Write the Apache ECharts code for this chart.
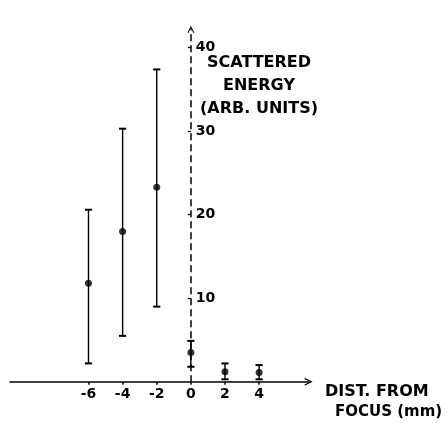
<!DOCTYPE html>
<html>
<head>
<meta charset="utf-8">
<script src="https://cdn.jsdelivr.net/npm/echarts@6/dist/echarts.min.js"></script>
<style>
html,body{margin:0;padding:0;background:#fff;}
#c{width:448px;height:423px;}
</style>
</head>
<body>
<div id="c"></div>
<script>
// Data
const distances = [-6, -4, -2, 0, 2, 4];           // mm from focus
const meanEnergy = [11.8, 18.0, 23.3, 3.5, 1.2, 1.1];
const lowEnergy  = [2.2, 5.5, 9.0, 1.8, 0.3, 0.3];
const highEnergy = [20.6, 30.3, 37.4, 4.9, 2.2, 2.0];
const yTickValues = [10, 20, 30, 40];
const xTickValues = [-6, -4, -2, 0, 2, 4];

const FONT = '"DejaVu Sans", Arial, sans-serif';
const chevron = 'path://M0,10 L5,0 L10,10 L8.3,10 L5,3.2 L1.7,10 Z';

const X_MIN = -10.6, X_MAX = 6.9, GRID_LEFT = 10, GRID_RIGHT = 139.4;
const plotW = 448 - GRID_LEFT - GRID_RIGHT;
const zeroOffset = (0 - X_MIN) / (X_MAX - X_MIN) * plotW;

const chart = echarts.init(document.getElementById('c'), null, {renderer: 'canvas'});

const errData = distances.map((x, i) => [x, lowEnergy[i], highEnergy[i]]);
const meanData = distances.map((x, i) => [x, meanEnergy[i]]);

chart.setOption({
  backgroundColor: '#fff',
  animation: false,
  grid: {left: GRID_LEFT, right: GRID_RIGHT, top: 29.3, bottom: 41.2, containLabel: false},
  xAxis: {
    type: 'value', min: X_MIN, max: X_MAX,
    splitLine: {show: false},
    axisLine: {onZero: true, symbol: ['none', chevron], symbolSize: [10, 8],
      lineStyle: {color: '#000', width: 1.6}},
    axisTick: {show: true, customValues: xTickValues, length: 3, lineStyle: {color: '#000', width: 1.5}},
    axisLabel: {customValues: xTickValues, color: '#000', fontFamily: FONT, fontWeight: 'bold', fontSize: 14, margin: 6}
  },
  yAxis: {
    type: 'value', min: 0, max: 42.2,
    position: 'left',
    offset: -zeroOffset,
    splitLine: {show: false},
    axisLine: {onZero: false, symbol: ['none', chevron], symbolSize: [8, 7],
      lineStyle: {color: '#000', width: 1.5, type: [6, 5]}},
    axisTick: {show: true, customValues: yTickValues, length: 3, lineStyle: {color: '#000', width: 1.3}},
    axisLabel: {customValues: yTickValues, inside: true, margin: 5, color: '#000', fontFamily: FONT, fontWeight: 'bold', fontSize: 14}
  },
  graphic: [
    {type: 'text', x: 259, y: 51, style: {text: 'SCATTERED\nENERGY\n(ARB. UNITS)', textAlign: 'center', align: 'center', lineHeight: 23,
      font: 'bold 16px ' + FONT, fill: '#000'}},
    {type: 'text', x: 325, y: 384, style: {text: 'DIST. FROM', font: 'bold 16px ' + FONT, fill: '#000'}},
    {type: 'text', x: 335, y: 405, style: {text: 'FOCUS (mm)', font: 'bold 15px ' + FONT, fill: '#000'}}
  ],
  series: [
    {
      type: 'custom',
      data: errData,
      encode: {x: 0, y: [1, 2]},
      clip: false,
      renderItem: function (params, api) {
        const x = api.value(0), lo = api.value(1), hi = api.value(2);
        const pLo = api.coord([x, lo]);
        const pHi = api.coord([x, hi]);
        const w = 3.6;
        const st = {stroke: '#000', lineWidth: 1.4};
        const cap = {stroke: '#000', lineWidth: 2};
        return {type: 'group', children: [
          {type: 'line', shape: {x1: pLo[0], y1: pLo[1], x2: pHi[0], y2: pHi[1]}, style: st},
          {type: 'line', shape: {x1: pLo[0] - w, y1: pLo[1], x2: pLo[0] + w, y2: pLo[1]}, style: cap},
          {type: 'line', shape: {x1: pHi[0] - w, y1: pHi[1], x2: pHi[0] + w, y2: pHi[1]}, style: cap}
        ]};
      }
    },
    {
      type: 'scatter',
      data: meanData,
      symbol: 'circle',
      symbolSize: 7,
      clip: false,
      itemStyle: {color: '#000'},
      markLine: {
        silent: true, symbol: 'none', label: {show: false},
        lineStyle: {color: '#000', width: 1.5, type: [3, 5]},
        data: [[{coord: [0, 42.2]}, {coord: [0, 44.2]}]]
      }
    }
  ]
});
</script>
</body>
</html>
